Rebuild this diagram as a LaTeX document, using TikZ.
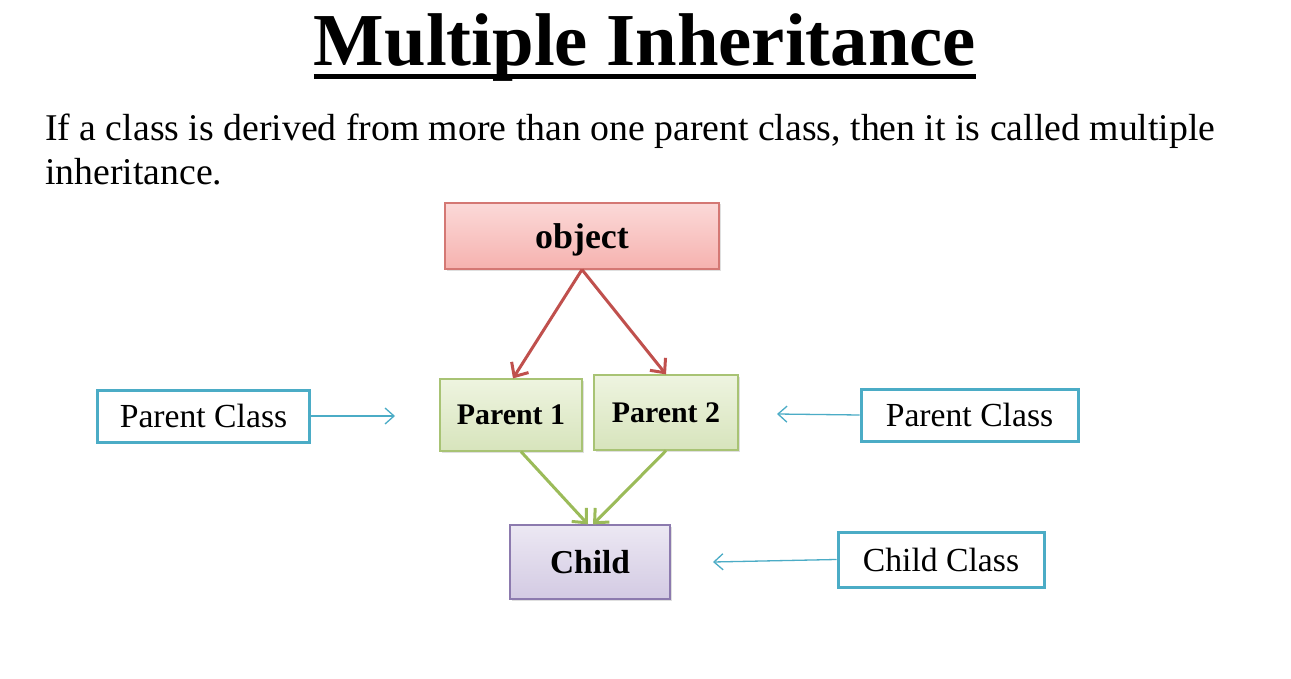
\documentclass[tikz,border=0pt]{standalone}
\usepackage{fontspec}
\setmainfont{Liberation Serif}
\usetikzlibrary{arrows.meta,shadows}
\definecolor{objfill}{HTML}{F6B2AF}
\definecolor{objtop}{HTML}{FBD9D8}
\definecolor{objline}{HTML}{D47874}
\definecolor{redarrow}{HTML}{C0504D}
\definecolor{parfill}{HTML}{D7E4BC}
\definecolor{partop}{HTML}{EEF4E0}
\definecolor{parline}{HTML}{A8C374}
\definecolor{greenarrow}{HTML}{9BBB59}
\definecolor{chfill}{HTML}{D3CAE3}
\definecolor{chtop}{HTML}{ECE8F3}
\definecolor{chline}{HTML}{8C7AAE}
\definecolor{noteblue}{HTML}{4BACC6}
\tikzset{
  classbox/.style={draw, line width=1.2bp, inner sep=0pt, text depth=0pt,
    drop shadow={shadow xshift=1.5bp, shadow yshift=-1.5bp, opacity=0.25}},
  notebox/.style={draw=noteblue, line width=3bp, fill=white, inner sep=0pt,
    font=\fontsize{33.8}{38}\selectfont},
  notearrow/.style={draw=noteblue, line width=1.3bp, -{Straight Barb[length=9bp,width=16bp]}},
}
\begin{document}
\begin{tikzpicture}[x=1bp,y=-1bp]
  \useasboundingbox[fill=white] (0,0) rectangle (1291,679);
  % heading
  \node[inner sep=0pt, anchor=base, font=\fontsize{75}{80}\selectfont\bfseries] (title) at (645,66) {Multiple Inheritance};
  \draw[line width=5bp] ([yshift=-11bp]title.base west) -- ([yshift=-11bp]title.base east);
  \node[inner sep=0pt, anchor=base west, align=left, font=\fontsize{37.9}{45}\selectfont] (defn) at (45,185)
    {If a class is derived from more than one parent class, then it is called multiple\\inheritance.};
  % classes
  \node[classbox, draw=objline, top color=objtop, bottom color=objfill,
    minimum width=274bp, minimum height=66bp, font=\fontsize{36}{40}\selectfont\bfseries] (obj) at (582,236) {object};
  \node[classbox, draw=parline, top color=partop, bottom color=parfill,
    minimum width=142bp, minimum height=72bp, font=\fontsize{30}{34}\selectfont\bfseries] (p1) at (511,415) {Parent 1};
  \node[classbox, draw=parline, top color=partop, bottom color=parfill,
    minimum width=144bp, minimum height=75bp, font=\fontsize{30}{34}\selectfont\bfseries] (p2) at (666,412.5) {Parent 2};
  \node[classbox, draw=chline, top color=chtop, bottom color=chfill,
    minimum width=160bp, minimum height=74bp, font=\fontsize{33.5}{38}\selectfont\bfseries] (child) at (590,562) {Child};
  % labels
  \node[notebox, minimum width=211bp, minimum height=52bp] (pleft) at (203.5,416) {Parent Class};
  \node[notebox, minimum width=217bp, minimum height=52bp] (pright) at (969.5,415) {Parent Class};
  \node[notebox, minimum width=206bp, minimum height=55bp] (chnote) at (941,559.5) {Child Class};
  \coordinate (pleftend) at (395,416);
  \coordinate (prightend) at (777,414);
  \coordinate (chnoteend) at (713,562);
  \begin{scope}[line width=3bp, -{Straight Barb[length=11bp,width=20bp]}]
    \draw[redarrow] (obj.south) to ([xshift=2bp]p1.north);
    \draw[redarrow] (obj.south) to (p2.north);
    \draw[greenarrow] ([xshift=10bp]p1.south) to ([xshift=-2bp]child.north);
    \draw[greenarrow] (p2.south) to ([xshift=3bp]child.north);
  \end{scope}
  \draw[notearrow] (pleft.east) -- (pleftend);
  \draw[notearrow] (pright.west) -- (prightend);
  \draw[notearrow] (chnote.west) -- (chnoteend);
\end{tikzpicture}
\end{document}
